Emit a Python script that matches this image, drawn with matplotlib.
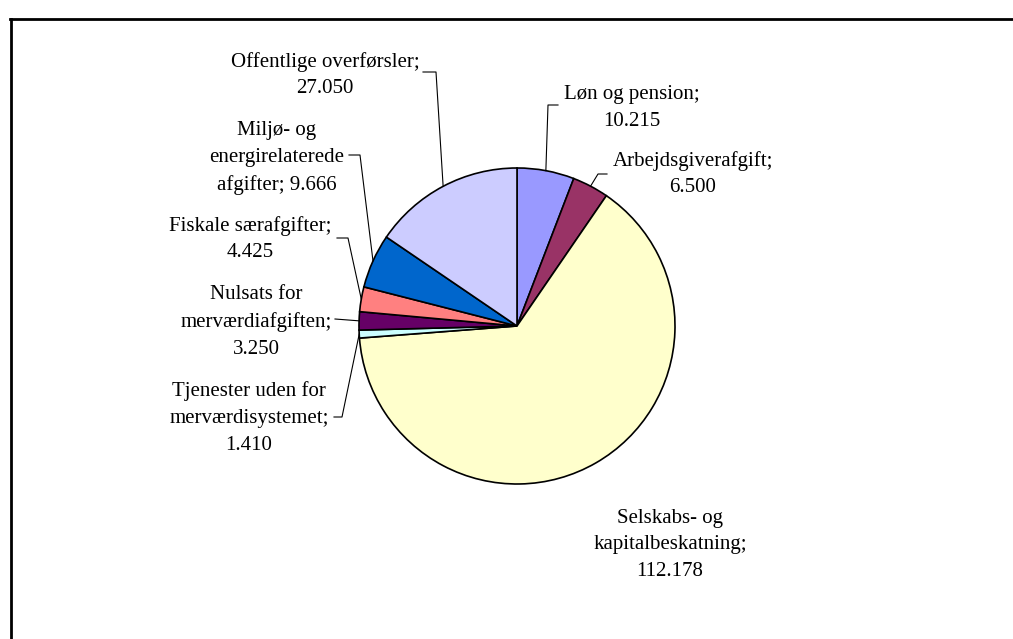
import matplotlib
matplotlib.use("Agg")
import matplotlib.pyplot as plt
import numpy as np

# data (mio. kr.), clockwise from 12 o'clock
names = ["Løn og pension;", "Arbejdsgiverafgift;", "Selskabs- og\nkapitalbeskatning;",
         "Tjenester uden for\nmerværdisystemet;", "Nulsats for\nmerværdiafgiften;",
         "Fiskale særafgifter;", "Miljø- og\nenergirelaterede\nafgifter;",
         "Offentlige overførsler;"]
values = [10215, 6500, 112178, 1410, 3250, 4425, 9666, 27050]
seps = ["\n", "\n", "\n", "\n", "\n", "\n", " ", "\n"]
colors = ["#9999FF", "#993366", "#FFFFCC", "#CCFFFF", "#660066", "#FF8080", "#0066CC", "#CCCCFF"]

# label placement in pixels: text centre, leader start x, elbow (x, y)
text_pos = [(632, 108), (693, 174), (670, 545), (249, 418), (256, 322), (250, 239), (277, 158), (325, 75)]
elbow = [(548, 105), (598, 174), None, (342, 417), None, (348, 238), (360, 155), (436, 72)]
stub_x = [558, 607, None, 334, 335, 337, 349, 423]

W, H = 1013, 639
fig = plt.figure(figsize=(W / 100, H / 100), dpi=100)
ax = fig.add_axes([0, 0, 1, 1])

cx, cy, r = 517, H - 326, 158
wedges, _ = ax.pie(values, colors=colors, startangle=90, counterclock=False,
                   center=(cx, cy), radius=r, frame=True,
                   wedgeprops=dict(edgecolor="black", linewidth=1.2))
ax.set_xlim(0, W)
ax.set_ylim(0, H)
ax.axis("off")

fmt = lambda v: f"{v:,}".replace(",", ".")

for i, w in enumerate(wedges):
    tx, ty = text_pos[i]
    ax.text(tx, H - ty, names[i] + seps[i] + fmt(values[i]), ha="center", va="center",
            multialignment="center", family="Liberation Serif", fontsize=15, linespacing=1.55)
    ang = np.deg2rad((w.theta1 + w.theta2) / 2)
    ex, ey = cx + r * np.cos(ang), cy + r * np.sin(ang)
    if stub_x[i] is None:
        continue
    if elbow[i] is None:
        ax.plot([stub_x[i], ex], [H - 319, ey], color="black", lw=0.8)
    else:
        bx, by = elbow[i]
        ax.plot([stub_x[i], bx, ex], [H - by, H - by, ey], color="black", lw=0.8)

# chart area frame (cut off at right/bottom)
ax.plot([10.5, 10.5], [0, H - 19], color="black", lw=2, clip_on=False)
ax.plot([10, W], [H - 19, H - 19], color="black", lw=2, clip_on=False)

fig.savefig("out.png", dpi=100)
